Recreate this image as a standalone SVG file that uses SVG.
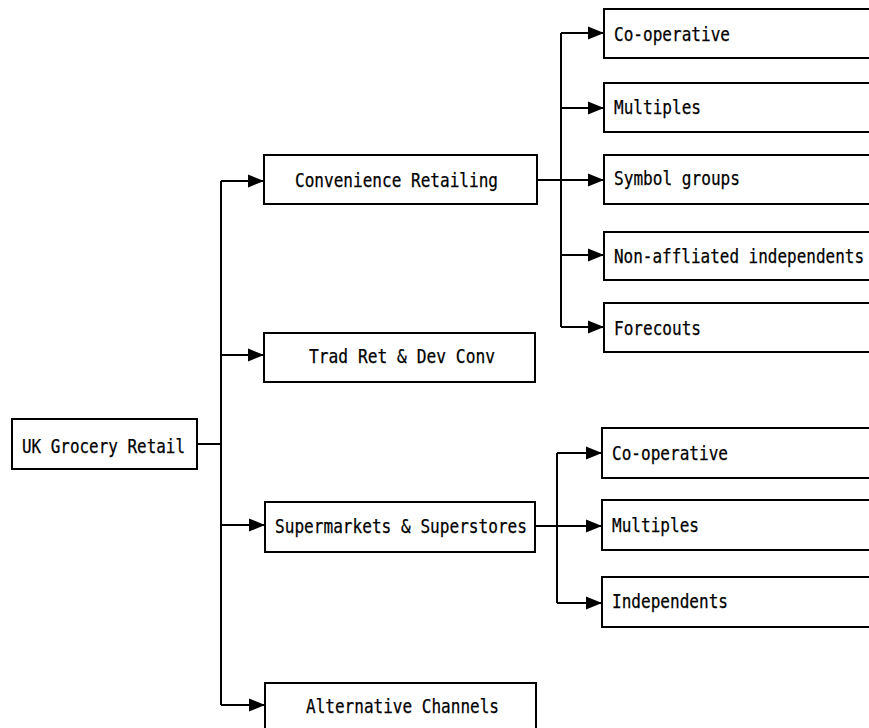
<svg xmlns="http://www.w3.org/2000/svg" width="869" height="728" viewBox="0 0 869 728">
<style>
.box{fill:#fff;stroke:#000;stroke-width:2}
.lbl{font-family:"DejaVu Sans Mono","Liberation Mono",monospace;font-size:19px;fill:#000;stroke:#000;stroke-width:0.25}
.c{fill:none;stroke:#000;stroke-width:2}
</style>
<defs>
<marker id="ah" markerUnits="userSpaceOnUse" markerWidth="17" markerHeight="14" refX="16" refY="7" orient="auto">
<path d="M0,0.5 L16,7 L0,13.5 Z" fill="#000"/>
</marker>
</defs>
<rect width="869" height="728" fill="#fff"/>
<g id="connectors">
<path class="c" d="M197,444 H221 M221,181 V705"/>
<path class="c" d="M221,181 H264" marker-end="url(#ah)"/>
<path class="c" d="M221,355 H264" marker-end="url(#ah)"/>
<path class="c" d="M221,525 H265" marker-end="url(#ah)"/>
<path class="c" d="M221,705 H265" marker-end="url(#ah)"/>
<path class="c" d="M561,33 V327"/>
<path class="c" d="M537,180 H604" marker-end="url(#ah)"/>
<path class="c" d="M561,33 H604" marker-end="url(#ah)"/>
<path class="c" d="M561,108 H604" marker-end="url(#ah)"/>
<path class="c" d="M561,255 H604" marker-end="url(#ah)"/>
<path class="c" d="M561,327 H604" marker-end="url(#ah)"/>
<path class="c" d="M557,453 V603"/>
<path class="c" d="M535,526 H602" marker-end="url(#ah)"/>
<path class="c" d="M557,453 H602" marker-end="url(#ah)"/>
<path class="c" d="M557,603 H602" marker-end="url(#ah)"/>
</g>
<g id="uk"><rect class="box" x="12" y="419" width="185" height="50"/><text class="lbl" x="22" y="453" textLength="163" lengthAdjust="spacingAndGlyphs">UK Grocery Retail</text></g>
<g id="conv"><rect class="box" x="264" y="155" width="273" height="49"/><text class="lbl" x="295" y="187" textLength="203" lengthAdjust="spacingAndGlyphs">Convenience Retailing</text></g>
<g id="trad"><rect class="box" x="264" y="333" width="271" height="49"/><text class="lbl" x="309" y="363" textLength="186" lengthAdjust="spacingAndGlyphs">Trad Ret &amp; Dev Conv</text></g>
<g id="super"><rect class="box" x="265" y="502" width="270" height="50"/><text class="lbl" x="275" y="533" textLength="252" lengthAdjust="spacingAndGlyphs">Supermarkets &amp; Superstores</text></g>
<g id="alt"><rect class="box" x="265" y="683" width="271" height="52"/><text class="lbl" x="306" y="713" textLength="193" lengthAdjust="spacingAndGlyphs">Alternative Channels</text></g>
<g id="c-coop"><rect class="box" x="604" y="9" width="270" height="49"/><text class="lbl" x="614" y="41" textLength="116" lengthAdjust="spacingAndGlyphs">Co-operative</text></g>
<g id="c-mult"><rect class="box" x="604" y="83" width="270" height="49"/><text class="lbl" x="614" y="114" textLength="87" lengthAdjust="spacingAndGlyphs">Multiples</text></g>
<g id="c-sym"><rect class="box" x="604" y="155" width="270" height="49"/><text class="lbl" x="614" y="185" textLength="126" lengthAdjust="spacingAndGlyphs">Symbol groups</text></g>
<g id="c-non"><rect class="box" x="604" y="232" width="270" height="48"/><text class="lbl" x="614" y="263" textLength="250" lengthAdjust="spacingAndGlyphs">Non-affliated independents</text></g>
<g id="c-fore"><rect class="box" x="604" y="303" width="270" height="49"/><text class="lbl" x="614" y="335" textLength="87" lengthAdjust="spacingAndGlyphs">Forecouts</text></g>
<g id="s-coop"><rect class="box" x="602" y="428" width="272" height="50"/><text class="lbl" x="612" y="460" textLength="116" lengthAdjust="spacingAndGlyphs">Co-operative</text></g>
<g id="s-mult"><rect class="box" x="602" y="500" width="272" height="50"/><text class="lbl" x="612" y="532" textLength="87" lengthAdjust="spacingAndGlyphs">Multiples</text></g>
<g id="s-ind"><rect class="box" x="602" y="577" width="272" height="50"/><text class="lbl" x="612" y="608" textLength="116" lengthAdjust="spacingAndGlyphs">Independents</text></g>
</svg>
